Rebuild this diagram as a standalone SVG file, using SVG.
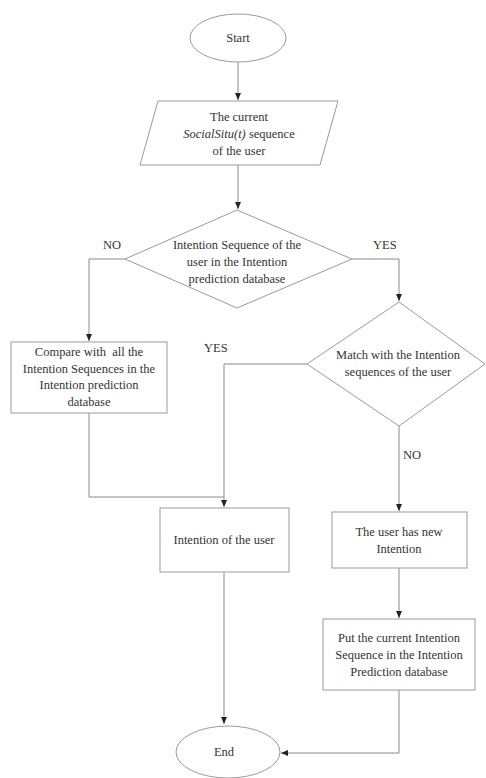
<svg xmlns="http://www.w3.org/2000/svg" width="486" height="778" viewBox="0 0 486 778">
<style>
.s{fill:#fff;stroke:#9a9a9a;stroke-width:1}
.t{font-family:"Liberation Serif","Times New Roman",serif;font-size:12.5px;fill:#333;text-anchor:middle;white-space:pre}
.l{font-family:"Liberation Serif","Times New Roman",serif;font-size:12.5px;fill:#333}
.c{fill:none;stroke:#8a8a8a;stroke-width:1}
</style>
<defs>
<marker id="a" markerWidth="8" markerHeight="8" refX="7" refY="4" orient="auto" markerUnits="userSpaceOnUse">
<path d="M0,1 L7,4 L0,7 Z" fill="#222"/>
</marker>
</defs>
<rect width="486" height="778" fill="#fff"/>
<g id="connectors">
<path class="c" d="M238,62 V100" marker-end="url(#a)"/>
<path class="c" d="M238,165 V209" marker-end="url(#a)"/>
<path class="c" d="M125,259 H89 V341" marker-end="url(#a)"/>
<path class="c" d="M352,259 H399 V301" marker-end="url(#a)"/>
<path class="c" d="M307,364 H224 V507" marker-end="url(#a)"/>
<path class="c" d="M89,413 V497 H224"/>
<path class="c" d="M399,426 V511" marker-end="url(#a)"/>
<path class="c" d="M399,568 V618" marker-end="url(#a)"/>
<path class="c" d="M224,572 V724" marker-end="url(#a)"/>
<path class="c" d="M399,690 V753 H281" marker-end="url(#a)"/>
<text class="l" x="103" y="249">NO</text>
<text class="l" x="373" y="249">YES</text>
<text class="l" x="204" y="352">YES</text>
<text class="l" x="403" y="459">NO</text>
</g>
<g id="start">
<ellipse class="s" cx="238" cy="38" rx="48" ry="24"/>
<text class="t" x="238" y="42">Start</text>
</g>
<g id="input">
<polygon class="s" points="158,101 338,101 320,165 140,165"/>
<text class="t" x="239" y="121">The current</text>
<text class="t" x="239" y="138"><tspan font-style="italic">SocialSitu(t)</tspan> sequence</text>
<text class="t" x="239" y="155">of the user</text>
</g>
<g id="decision1">
<polygon class="s" points="237,210 352,259 237,308 125,259"/>
<text class="t" x="237" y="249">Intention Sequence of the</text>
<text class="t" x="237" y="266">user in the Intention</text>
<text class="t" x="237" y="283">prediction database</text>
</g>
<g id="compare">
<rect class="s" x="11" y="342" width="156" height="71"/>
<text class="t" x="89" y="356" xml:space="preserve">Compare with  all the</text>
<text class="t" x="89" y="373">Intention Sequences in the</text>
<text class="t" x="89" y="389">Intention prediction</text>
<text class="t" x="89" y="406">database</text>
</g>
<g id="decision2">
<polygon class="s" points="399,302 485,364 399,426 307,364"/>
<text class="t" x="398" y="359">Match with the Intention</text>
<text class="t" x="398" y="376">sequences of the user</text>
</g>
<g id="intention">
<rect class="s" x="160" y="508" width="129" height="64"/>
<text class="t" x="224" y="544">Intention of the user</text>
</g>
<g id="newintention">
<rect class="s" x="332" y="512" width="135" height="56"/>
<text class="t" x="399" y="536">The user has new</text>
<text class="t" x="399" y="553">Intention</text>
</g>
<g id="put">
<rect class="s" x="323" y="619" width="152" height="71"/>
<text class="t" x="399" y="642">Put the current Intention</text>
<text class="t" x="399" y="659">Sequence in the Intention</text>
<text class="t" x="399" y="676">Prediction database</text>
</g>
<g id="end">
<ellipse class="s" cx="228" cy="752" rx="52" ry="26"/>
<text class="t" x="224" y="756">End</text>
</g>
</svg>
